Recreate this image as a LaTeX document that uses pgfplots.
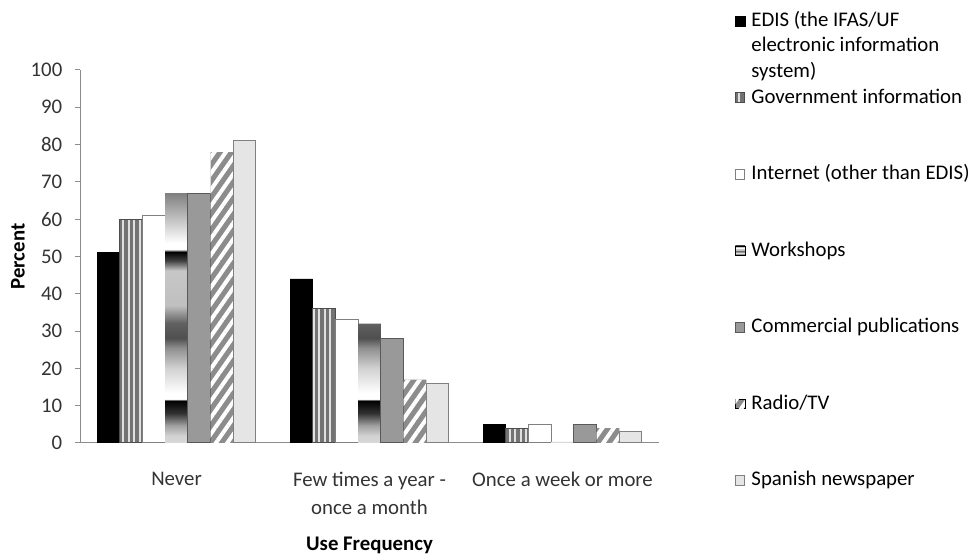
\documentclass[border=0pt]{standalone}
\usepackage{pgfplots}
\pgfplotsset{compat=1.18}
\usepackage{fontspec}
\setmainfont{Carlito}
\usetikzlibrary{patterns,patterns.meta}
\newcommand\fnt{\fontsize{15.6pt}{18.4pt}\selectfont}
\pgfdeclareverticalshading{workshop}{100bp}{%
color(0bp)=(black!15); color(25bp)=(black!15); color(26.5bp)=(black!18);
color(28.5bp)=(black!37); color(31bp)=(black!81); color(33.5bp)=(black);
color(33.75bp)=(white); color(35bp)=(white); color(40bp)=(black!18);
color(44bp)=(black!44); color(46bp)=(black!69); color(49bp)=(black!62);
color(52.5bp)=(black!25); color(59.5bp)=(black!22); color(61.5bp)=(black!75);
color(63.25bp)=(black); color(63.75bp)=(white); color(65bp)=(white);
color(70bp)=(black!25); color(75bp)=(black!50); color(100bp)=(black!50)}
\begin{document}
\begin{tikzpicture}
\path[use as bounding box] (0,0) rectangle (730.5pt,417pt);
\begin{axis}[
  at={(60pt,84.75pt)}, anchor=south west,
  scale only axis, width=434.25pt, height=279.75pt,
  ybar=0pt, bar width=17.03pt,
  xmin=-0.5, xmax=2.5, ymin=0, ymax=100,
  xtick={0,1,2},
  xticklabels={Never,{Few times a year -\\once a month},Once a week or more},
  ytick={0,10,...,100},
  axis x line*=bottom, axis y line*=left,
  axis line style={draw=black!45, line width=0.75pt},
  x tick style={draw=none},
  y tick style={draw=black!45, line width=0.75pt},
  tick align=outside, major tick length=3.75pt,
  /pgf/number format/assume math mode=true,
  tick label style={font=\fnt, text=black!80},
  xticklabel style={align=center, yshift=-14.5pt, font=\fontsize{15.6pt}{21pt}\selectfont},
  yticklabel style={xshift=-6pt},
  xlabel={\textbf{Use Frequency}}, ylabel={\textbf{Percent}},
  every axis y label/.style={at={(axis description cs:-0.107,0.5)}, anchor=center, rotate=90, font=\fnt},
  every axis x label/.style={at={(axis description cs:0.5,0)}, anchor=center, yshift=-76.5pt, font=\fnt},
  legend style={draw=none, fill=none, at={(1.131,1.156)}, anchor=north west,
    inner sep=0pt, outer sep=0pt, font=\fnt, row sep=43.4pt, column sep=4.5pt,
    nodes={inner sep=0pt, text height=11pt, text depth=3pt}},
  legend cell align=left,
  legend image code/.code={\draw[#1] (0pt,-3.6pt) rectangle (7.2pt,3.6pt);},
]
\addplot[fill=black, draw=black] coordinates {(0,51) (1,44) (2,5)};
\addlegendentry{\raisebox{0pt}[\height][0pt]{\renewcommand\arraystretch{1.04}\begin{tabular}[t]{@{}l@{}}EDIS (the IFAS/UF\\electronic information\\system)\end{tabular}}}
\addplot[fill=black!55, draw=black!70, line width=0.75pt,
  postaction={pattern={Lines[angle=90,distance=4.2pt,line width=1.5pt]}, pattern color=black!12}]
  coordinates {(0,60) (1,36) (2,4)};
\addlegendentry{Government information}
\addplot[fill=white, draw=black!50, line width=0.75pt] coordinates {(0,61) (1,33) (2,5)};
\addlegendentry{Internet (other than EDIS)}
\addplot[shading=workshop, draw=none] coordinates {(0,67) (1,32) (2,0.3)};
\addlegendentry{Workshops}
\addplot[fill=black!40, draw=black!65, line width=0.75pt] coordinates {(0,67) (1,28) (2,5)};
\addlegendentry{Commercial publications}
\addplot[fill=black!45, draw=none,
  postaction={pattern={Lines[angle=55,distance=7pt,line width=3pt]}, pattern color=white}]
  coordinates {(0,78) (1,17) (2,4)};
\addlegendentry{Radio/TV}
\addplot[fill=black!10, draw=black!50, line width=0.75pt] coordinates {(0,81) (1,16) (2,3)};
\addlegendentry{Spanish newspaper}
\end{axis}
\end{tikzpicture}
\end{document}
